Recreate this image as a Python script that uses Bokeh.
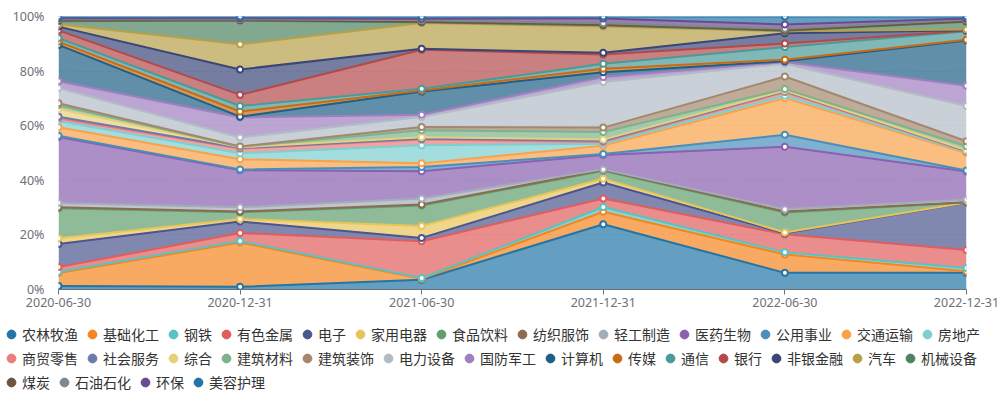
from bokeh.plotting import figure
from bokeh.models import ColumnDataSource, Range1d, FixedTicker, Legend, LegendItem
from bokeh.transform import stack
from bokeh.embed import file_html
from bokeh.resources import INLINE

dates = ["2020-06-30", "2020-12-31", "2021-06-30", "2021-12-31", "2022-06-30", "2022-12-31"]
y_ticks = [0, 20, 40, 60, 80, 100]
y_tick_labels = ["0%", "20%", "40%", "60%", "80%", "100%"]

农林牧渔 = [1.3, 1.0, 3.6, 23.9, 6.1, 6.1]
基础化工 = [4.7, 16.2, 0.3, 4.6, 6.7, 0.6]
钢铁 = [0.5, 0.6, 0.3, 1.7, 0.8, 1.2]
有色金属 = [1.7, 2.9, 13.5, 3.1, 6.6, 6.6]
电子 = [8.5, 4.2, 1.2, 5.9, 0.4, 17.3]
家用电器 = [2.1, 0.9, 4.4, 1.4, 0.3, 0.1]
食品饮料 = [11.0, 2.5, 7.5, 2.9, 7.3, 0.0]
纺织服饰 = [0.3, 0.3, 0.3, 0.3, 0.4, 0.1]
轻工制造 = [1.6, 1.5, 2.2, 0.2, 0.8, 0.9]
医药生物 = [24.2, 13.6, 10.0, 5.3, 22.9, 10.3]
公用事业 = [0.4, 0.3, 1.6, 0.3, 4.4, 0.4]
交通运输 = [3.1, 3.7, 1.3, 3.1, 13.4, 6.4]
房地产 = [2.3, 2.2, 6.6, 0.7, 0.9, 0.3]
商贸零售 = [0.9, 1.7, 2.1, 0.6, 1.3, 0.2]
社会服务 = [0.7, 0.2, 0.3, 0.5, 0.3, 0.3]
综合 = [2.8, 0.3, 0.6, 0.4, 0.3, 0.2]
建筑材料 = [1.4, 0.2, 2.5, 2.8, 0.5, 1.5]
建筑装饰 = [0.7, 0.1, 1.2, 1.6, 4.6, 1.8]
电力设备 = [5.6, 3.3, 3.7, 16.7, 4.7, 12.9]
国防军工 = [2.5, 7.3, 0.8, 1.8, 0.6, 7.4]
计算机 = [13.3, 0.3, 8.5, 1.8, 0.3, 16.6]
传媒 = [1.2, 1.9, 0.4, 1.3, 0.6, 0.3]
通信 = [1.3, 2.0, 0.6, 1.8, 4.6, 3.1]
银行 = [2.8, 4.1, 14.3, 3.4, 1.3, 0.2]
非银金融 = [1.4, 9.3, 0.4, 0.6, 3.8, 0.2]
汽车 = [0.9, 9.2, 9.4, 9.6, 0.7, 0.2]
机械设备 = [1.1, 8.7, 0.3, 0.5, 0.2, 2.9]
煤炭 = [0.3, 0.2, 0.2, 0.2, 0.2, 0.2]
石油石化 = [0.4, 0.3, 0.5, 0.5, 0.5, 0.5]
环保 = [0.4, 0.4, 0.6, 1.8, 1.6, 0.5]
美容护理 = [0.6, 0.6, 0.8, 0.7, 2.9, 0.7]

names = ["农林牧渔", "基础化工", "钢铁", "有色金属", "电子", "家用电器", "食品饮料", "纺织服饰",
         "轻工制造", "医药生物", "公用事业", "交通运输", "房地产", "商贸零售", "社会服务", "综合",
         "建筑材料", "建筑装饰", "电力设备", "国防军工", "计算机", "传媒", "通信", "银行",
         "非银金融", "汽车", "机械设备", "煤炭", "石油石化", "环保", "美容护理"]
values = [农林牧渔, 基础化工, 钢铁, 有色金属, 电子, 家用电器, 食品饮料, 纺织服饰, 轻工制造, 医药生物,
          公用事业, 交通运输, 房地产, 商贸零售, 社会服务, 综合, 建筑材料, 建筑装饰, 电力设备, 国防军工,
          计算机, 传媒, 通信, 银行, 非银金融, 汽车, 机械设备, 煤炭, 石油石化, 环保, 美容护理]

palette = ["#2275a5", "#f5861f", "#5bc2c2", "#e05d5d", "#4b558f", "#e8c55a", "#5f9e6e", "#8b6c52",
           "#a2adb9", "#8a60b0", "#4a8fbc", "#f8a24a", "#7ecfcf", "#e87e7e", "#6f7aac", "#e8d07a",
           "#7db38c", "#a3876f", "#b2bcc6", "#a07fc0", "#1e5f86", "#c96a14", "#4a9a98", "#b34a4a",
           "#3a4677", "#b8a048", "#4d8360", "#6f5440", "#7e8890", "#6a4b8f"]
colors = [palette[i % len(palette)] for i in range(len(names))]

data = {"x": list(range(len(dates)))}
for n, v in zip(names, values):
    data[n] = v
source = ColumnDataSource(data)

TICK_FONT = "Noto Sans"
AXIS_COLOR = "#6E7079"

p = figure(width=1000, height=319, output_backend="svg", toolbar_location=None,
           x_range=Range1d(0, len(dates) - 1), y_range=Range1d(0, 100),
           min_border_left=58, min_border_right=34, min_border_top=16, min_border_bottom=30)
p.outline_line_color = None
p.background_fill_color = "white"

p.varea_stack(stackers=names, x="x", source=source, color=colors, fill_alpha=0.7)
for i, n in enumerate(names):
    p.line(x="x", y=stack(*names[:i + 1]), source=source, line_color=colors[i], line_width=2)
for i, n in enumerate(names):
    p.scatter(x="x", y=stack(*names[:i + 1]), source=source, marker="circle", size=6,
              fill_color="white", line_color=colors[i], line_width=2)

p.xaxis.ticker = FixedTicker(ticks=list(range(len(dates))))
p.xaxis.major_label_overrides = {i: d for i, d in enumerate(dates)}
p.xaxis.axis_line_color = AXIS_COLOR
p.xaxis.major_tick_line_color = AXIS_COLOR
p.xaxis.major_tick_in = 0
p.xaxis.major_tick_out = 5
p.xaxis.minor_tick_line_color = None
p.xaxis.major_label_standoff = 3
p.xaxis.major_label_text_font = TICK_FONT
p.xaxis.major_label_text_font_size = "12.5px"
p.xaxis.major_label_text_color = AXIS_COLOR

p.yaxis.ticker = FixedTicker(ticks=y_ticks)
p.yaxis.major_label_overrides = {t: l for t, l in zip(y_ticks, y_tick_labels)}
p.yaxis.axis_line_color = None
p.yaxis.major_tick_line_color = None
p.yaxis.minor_tick_line_color = None
p.yaxis.major_label_standoff = 8
p.yaxis.major_label_text_font = TICK_FONT
p.yaxis.major_label_text_font_size = "12.5px"
p.yaxis.major_label_text_color = AXIS_COLOR

p.xgrid.grid_line_color = None
p.ygrid.grid_line_color = "#E0E6F1"
p.ygrid.grid_line_dash = "4 3"

# legend figure (separate root, frame spans the whole canvas)
lg = figure(width=1000, height=74, output_backend="svg", toolbar_location=None,
            x_range=Range1d(0, 1), y_range=Range1d(0, 1),
            min_border=0, x_axis_type=None, y_axis_type=None)
lg.outline_line_color = None
lg.xgrid.grid_line_color = None
lg.ygrid.grid_line_color = None

dummies = []
for i, n in enumerate(names):
    r = lg.scatter(x=[-5], y=[-5], marker="circle", fill_color=colors[i], line_color=colors[i])
    dummies.append(r)

rows = [(0, 13, 48), (13, 27, 24), (27, 31, 0)]
for a, b, ybot in rows:
    items = [LegendItem(label=names[k], renderers=[dummies[k]]) for k in range(a, b)]
    leg = Legend(items=items, orientation="horizontal", location=(0, ybot),
                 glyph_width=22, glyph_height=22, label_standoff=-1, spacing=3,
                 padding=0, margin=0, border_line_color=None, background_fill_alpha=0,
                 label_text_font="Noto Sans CJK SC", label_text_font_size="14px",
                 label_text_color="#333333", label_height=22)
    lg.add_layout(leg, "center")

open("out.html", "w").write(file_html([p, lg], INLINE))
